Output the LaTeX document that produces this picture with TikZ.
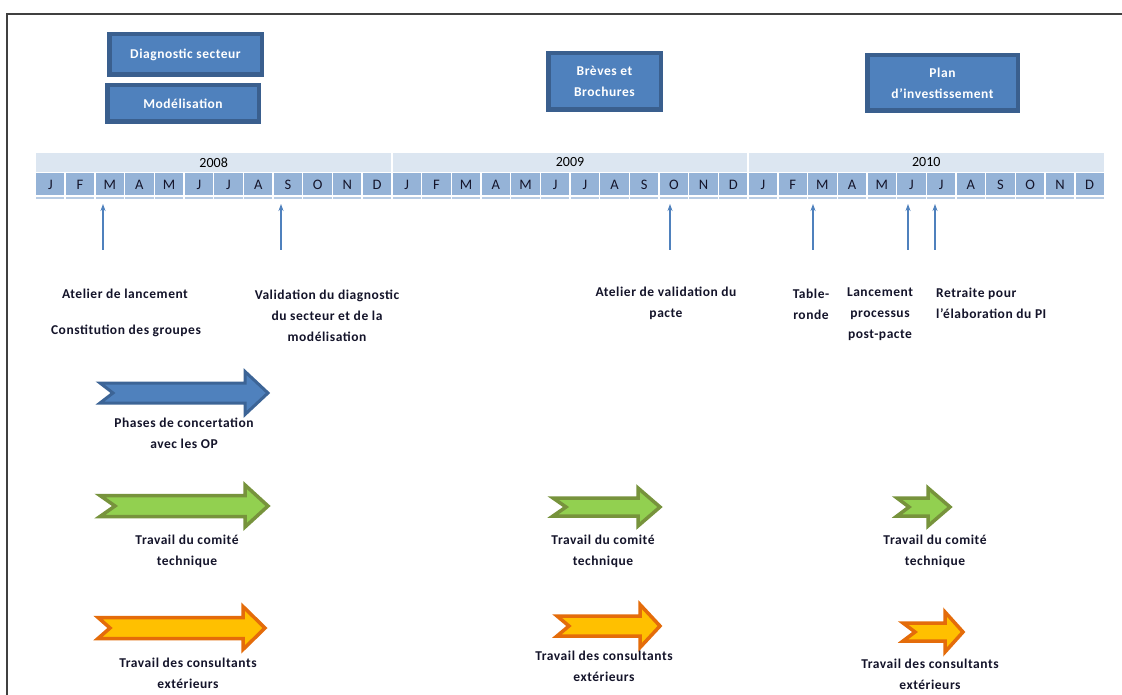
\documentclass[tikz,border=0pt]{standalone}
\usepackage{fontspec}
\setmainfont{Carlito}
\newfontfamily\lblfont[LetterSpace=4]{Carlito}
\usetikzlibrary{arrows.meta}
\definecolor{boxfill}{HTML}{4F81BD}
\definecolor{boxline}{HTML}{3A5F8E}
\definecolor{monthfill}{HTML}{95B3D7}
\definecolor{yearfill}{HTML}{DCE6F1}
\definecolor{rulefill}{HTML}{B8CCE4}
\definecolor{pinblue}{HTML}{4F81BD}
\definecolor{greenfill}{HTML}{92D050}
\definecolor{greenline}{HTML}{77933C}
\definecolor{orangefill}{HTML}{FFC000}
\definecolor{orangeline}{HTML}{E46C0A}
\definecolor{bluearrline}{HTML}{3C6496}
\definecolor{labeltext}{HTML}{14142A}
\tikzset{
  topbox/.style={draw=boxline, line width=4.5pt, fill=boxfill, text=white,
    font=\lblfont\bfseries\fontsize{13.5}{21}\selectfont, align=center, inner sep=0pt},
  lbl/.style={text=labeltext, font=\lblfont\bfseries\fontsize{13.5}{21}\selectfont, align=center, inner sep=0pt},
  monthlbl/.style={text=labeltext, font=\fontsize{14.5}{16}\selectfont, inner sep=0pt},
  yearlbl/.style={text=black, font=\fontsize{14}{16}\selectfont, inner sep=0pt},
  pin/.style={draw=pinblue, line width=1.1pt, -{Stealth[length=7pt,width=5pt]}},
  bluearr/.style={fill=boxfill, draw=bluearrline, line width=3pt, line join=miter},
  greenarr/.style={fill=greenfill, draw=greenline, line width=3.5pt, line join=miter},
  orangearr/.style={fill=orangefill, draw=orangeline, line width=3.5pt, line join=miter},
}
% #1 tail x, #2 head base x, #3 tip x, #4 centre y, #5 shaft half, #6 head half, #7 notch, #8 style
\newcommand{\blockarr}[8]{%
  \draw[#8] (#1,{#4-#5}) -- (#2,{#4-#5}) -- (#2,{#4-#6}) -- (#3,#4) -- (#2,{#4+#6})
    -- (#2,{#4+#5}) -- (#1,{#4+#5}) -- ({#1+#7},#4) -- cycle;}
\begin{document}
\begin{tikzpicture}[x=1pt,y=-1pt]
\useasboundingbox (0,0) rectangle (1122,695);
\fill[white] (0,0) rectangle (1122,695);
% frame
\draw[line width=1.3pt, black!75] (7,695) -- (7,14) -- (1122,14);

% top boxes
\node[topbox, minimum width=152.5pt, minimum height=40.5pt] (diag) at (185.5,54.5) {Diagnostic secteur};
\node[topbox, minimum width=151.5pt, minimum height=36.5pt] (model) at (183,103.5) {Modélisation};
\node[topbox, minimum width=112.5pt, minimum height=56.5pt] (breves) at (604.5,81.5) {Brèves et\\Brochures};
\node[topbox, minimum width=150.5pt, minimum height=55.5pt] (plan) at (942.5,83) {Plan\\d’investissement};

% timeline
\def\xz{35.5}
\def\mw{29.694}
\foreach \yr [count=\k from 0] in {2008,2009,2010}{
  \fill[yearfill] ({\xz+12*\k*\mw},153) rectangle ({\xz+12*(\k+1)*\mw},172);
  \node[yearlbl] (y\yr) at ({\xz+(12*\k+6)*\mw},162.5) {\yr};
}
\foreach \k in {1,2}{
  \draw[white, line width=1.5pt] ({\xz+12*\k*\mw},153) -- ({\xz+12*\k*\mw},172);
}
\draw[white, line width=1.5pt] (\xz,172.5) -- ({\xz+36*\mw},172.5);
\foreach \mo [count=\i from 0] in {J,F,M,A,M,J,J,A,S,O,N,D,J,F,M,A,M,J,J,A,S,O,N,D,J,F,M,A,M,J,J,A,S,O,N,D}{
  \fill[monthfill] ({\xz+\i*\mw+0.7},173.3) rectangle ({\xz+(\i+1)*\mw-0.7},195.5);
  \fill[rulefill] ({\xz+\i*\mw+0.7},197) rectangle ({\xz+(\i+1)*\mw-0.7},199);
  \node[monthlbl] (m\i) at ({\xz+(\i+0.5)*\mw},185) {\mo};
}

% pins
\foreach \px [count=\j] in {103,281,670,813,908,935}{
  \coordinate (pb\j) at (\px,250);
  \coordinate (pt\j) at (\px,204);
  \draw[pin] (pb\j) -- (pt\j);
}

% milestone labels
\node[lbl] (l1a) at (125,294) {Atelier de lancement};
\node[lbl] (l1b) at (126,331) {Constitution des groupes};
\node[lbl] (l2) at (327,316) {Validation du diagnostic\\du secteur et de la\\modélisation};
\node[lbl] (l3) at (666,303) {Atelier de validation du\\pacte};
\node[lbl] (l4) at (811,304.5) {Table-\\ronde};
\node[lbl] (l5) at (880,314) {Lancement\\processus\\post-pacte};
\node[lbl, align=left, anchor=west] (l6) at (936,303.5) {Retraite pour\\l’élaboration du PI};

% block arrows
\blockarr{100}{245}{268}{393}{10}{21.5}{13}{bluearr}
\blockarr{100}{245}{268}{506}{10.5}{21}{15}{greenarr}
\blockarr{553}{638}{660}{507}{9}{19}{13}{greenarr}
\blockarr{897}{928}{950}{507}{9}{19}{12}{greenarr}
\blockarr{98}{243}{265}{628}{10.5}{21.5}{12}{orangearr}
\blockarr{557}{640}{660}{626}{10}{21.5}{12}{orangearr}
\blockarr{903}{945}{963}{632}{9}{20}{12}{orangearr}

% arrow labels
\node[lbl] (l7) at (184,433) {Phases de concertation\\avec les OP};
\node[lbl] (l8) at (187,551.5) {Travail du comité\\technique};
\node[lbl] (l9) at (603,551) {Travail du comité\\technique};
\node[lbl] (l10) at (935,551) {Travail du comité\\technique};
\node[lbl] (l11) at (188,673) {Travail des consultants\\extérieurs};
\node[lbl] (l12) at (604,666) {Travail des consultants\\extérieurs};
\node[lbl] (l13) at (930,674) {Travail des consultants\\extérieurs};
\end{tikzpicture}
\end{document}
